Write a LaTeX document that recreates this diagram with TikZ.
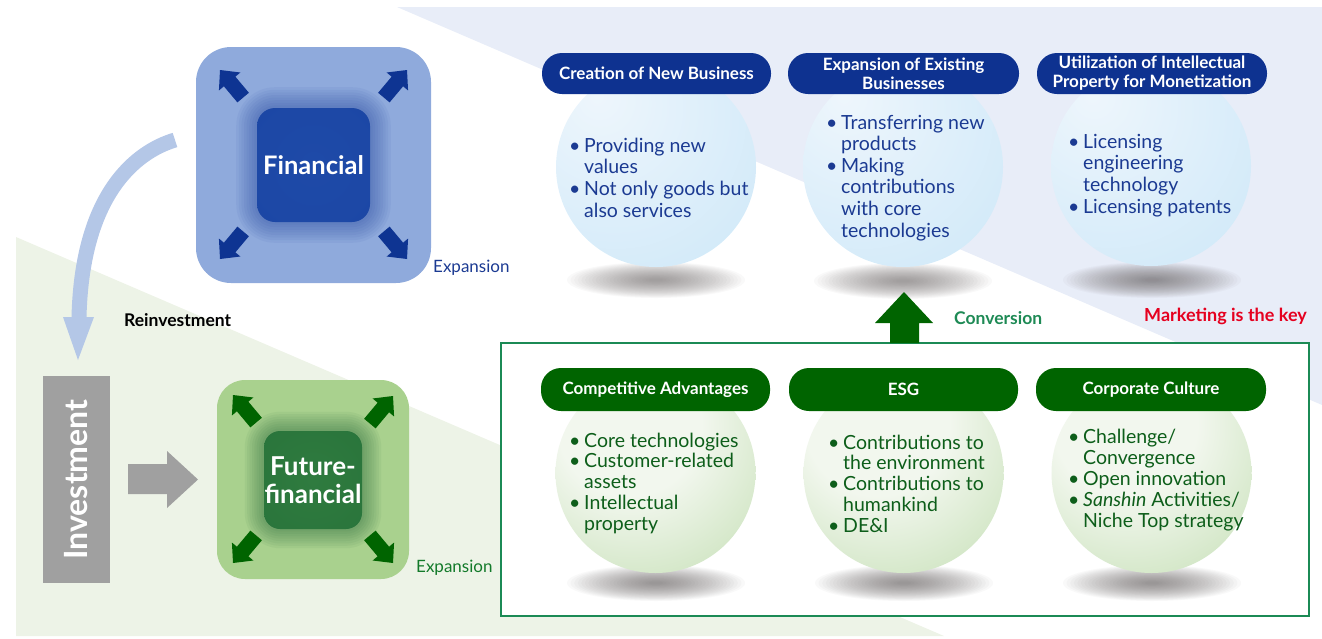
\documentclass[tikz,border=0pt]{standalone}
\usepackage{fontspec}
\setmainfont{Lato}
\definecolor{bgblue}{HTML}{E8EDF8}
\definecolor{bggreen}{HTML}{EDF3E7}
\definecolor{finout}{HTML}{8FAADC}
\definecolor{darkblue}{HTML}{0E3492}
\definecolor{pillblue}{HTML}{0E3290}
\definecolor{txtblue}{HTML}{1B3A92}
\definecolor{curvearrow}{HTML}{B4C7E7}
\definecolor{futout}{HTML}{A9D18E}
\definecolor{dkgreen}{HTML}{006400}
\definecolor{txtgreen}{HTML}{0D5E1A}
\definecolor{boxgreen}{HTML}{1B8A55}
\definecolor{convgreen}{HTML}{1E8A55}
\definecolor{expgreen}{HTML}{137A2A}
\definecolor{mkred}{HTML}{E5001F}
\definecolor{invgray}{HTML}{A0A0A0}
\definecolor{shadowgray}{HTML}{5E5858}
\definecolor{finC}{HTML}{1E4AA8}
\definecolor{finE}{HTML}{0B2B8A}
\definecolor{futC}{HTML}{2F7B3F}
\definecolor{futE}{HTML}{0A5026}
\definecolor{sphBa}{HTML}{EEF6FC}
\definecolor{sphBb}{HTML}{C3E3F7}
\definecolor{sphGa}{HTML}{F2F7EE}
\definecolor{sphGb}{HTML}{AAD193}
\pgfdeclareradialshading{finshade}{\pgfpointorigin}{color(0bp)=(finC); color(36bp)=(finC!90!finE); color(50bp)=(finE); color(75bp)=(finE)}
\pgfdeclareradialshading{futshade}{\pgfpointorigin}{color(0bp)=(futC); color(36bp)=(futC!85!futE); color(50bp)=(futE); color(75bp)=(futE)}
\pgfdeclareradialshading{bsph}{\pgfpoint{-15bp}{18bp}}{color(0bp)=(sphBa); color(65bp)=(sphBb); color(100bp)=(sphBb)}
\pgfdeclareradialshading{gsph}{\pgfpoint{-8bp}{15bp}}{color(0bp)=(sphGa); color(18bp)=(sphGa); color(62bp)=(sphGb); color(100bp)=(sphGb)}
\newcommand\bitem{\makebox[15pt][l]{•}}
\newcommand\bcont{\hspace*{15pt}}
\newcommand\sphlines[6]{%
  \foreach \lntxt [count=\i from 0] in {#6}{%
    \node[#2] (#1-\i) at (#3,{#4+\i*#5}) {\lntxt};}}
\newcommand\diagarrow[4]{%
  \fill[#4, shift={(#1,#2)}, rotate=#3] (0,0) -- (-15,-14) -- (-15,-7.5) -- (-36,-7.5) -- (-36,7.5) -- (-15,7.5) -- (-15,14) -- cycle;}
\newcommand\shadowat[2]{%
  \foreach \k in {0,...,23}{%
    \pgfmathsetmacro\sf{1-\k/25}%
    \fill[shadowgray, opacity=0.036] (#1,#2) ellipse ({89*\sf} and {18*\sf});}}
\begin{document}
\begin{tikzpicture}[x=1pt,y=-1pt,
  pillb/.style={fill=pillblue, rounded corners=20pt, minimum height=41pt, text=white,
    font=\bfseries\fontsize{17}{19}\selectfont, align=center, inner sep=0pt},
  pillg/.style={pillb, fill=dkgreen, minimum height=43pt},
  btext/.style={font=\fontsize{19.5}{22}\selectfont, text=txtblue, inner sep=0pt, anchor=base west},
  gtext/.style={btext, text=txtgreen},
  bsphere/.style={circle, minimum size=200pt, inner sep=0pt, shade, shading=bsph},
  gsphere/.style={circle, minimum size=200pt, inner sep=0pt, shade, shading=gsph},
  lbl/.style={inner sep=0pt, anchor=west}]
\useasboundingbox (0,0) rectangle (1322,638);
% backgrounds
\fill[bgblue] (397,7) -- (1322,7) -- (1322,405) -- cycle;
\fill[bggreen] (16,237) -- (944,636) -- (16,636) -- cycle;
% Financial
\node[fill=finout, rounded corners=35pt, minimum width=235pt, minimum height=236pt, inner sep=0pt] (finbox) at (313.5,165) {};
\foreach \k in {1,...,8}{%
  \pgfmathsetmacro\dd{\k*2.6}\pgfmathsetmacro\rr{18+\k*2.6}%
  \fill[darkblue, opacity=0.05, rounded corners=\rr pt] ({257-\dd},{108-\dd}) rectangle ({370+\dd},{222+\dd});}
\node[shade, shading=finshade, rounded corners=18pt, minimum width=113pt, minimum height=114pt, inner sep=0pt,
  text=white, font=\bfseries\fontsize{25.5}{28}\selectfont] (fin) at (313.5,165) {Financial};
\diagarrow{220}{70}{130}{darkblue}
\diagarrow{407}{70}{50}{darkblue}
\diagarrow{220}{259}{-130}{darkblue}
\diagarrow{407}{259}{-50}{darkblue}
\node[lbl, text=txtblue, font=\fontsize{17}{19}\selectfont] (expb) at (433,268) {Expansion};
% reinvestment arrow
\coordinate (ra) at (175,140);
\coordinate (rb) at (79,317);
\draw[curvearrow, line width=15pt] (ra) .. controls (135,152) and (82,195) .. (rb);
\fill[curvearrow] (63,317) -- (94,317) -- (78,360) -- cycle;
\node[lbl, text=black, font=\bfseries\fontsize{17.5}{20}\selectfont] (reinv) at (124,320) {Reinvestment};
% Investment
\node[fill=invgray, rotate=90, minimum width=207pt, minimum height=67pt, inner sep=0pt,
  text=white, font=\bfseries\fontsize{32}{36}\selectfont] (inv) at (76.5,479.5) {Investment};
\fill[invgray] (128,464) -- (167,464) -- (167,451) -- (198,479.5) -- (167,508) -- (167,494) -- (128,494) -- cycle;
% Future-financial
\node[fill=futout, rounded corners=28pt, minimum width=192pt, minimum height=199pt, inner sep=0pt] (futbox) at (313,479.5) {};
\foreach \k in {1,...,8}{%
  \pgfmathsetmacro\dd{\k*2.4}\pgfmathsetmacro\rr{16+\k*2.4}%
  \fill[futE, opacity=0.05, rounded corners=\rr pt] ({264-\dd},{431-\dd}) rectangle ({362+\dd},{529+\dd});}
\node[shade, shading=futshade, rounded corners=16pt, minimum width=98pt, minimum height=98pt, inner sep=0pt,
  text=white, align=center, font=\bfseries\fontsize{26}{28}\selectfont] (fut) at (313,480) {Future-\\financial};
\diagarrow{233}{395}{130}{dkgreen}
\diagarrow{393}{396}{50}{dkgreen}
\diagarrow{233}{563}{-130}{dkgreen}
\diagarrow{393}{563}{-50}{dkgreen}
\node[lbl, text=expgreen, font=\fontsize{17}{19}\selectfont] (expg) at (416,568) {Expansion};
% green frame
\draw[boxgreen, line width=2pt, fill=white] (501,343) rectangle (1309,616);
% shadows
\shadowat{656}{280}
\shadowat{903}{281}
\shadowat{1152}{280}
\shadowat{656}{583}
\shadowat{904}{583}
\shadowat{1152}{583}
% conversion arrow
\fill[dkgreen] (890,343) -- (890,323) -- (875,323) -- (904,292) -- (933,323) -- (919,323) -- (919,343) -- cycle;
\node[lbl, text=convgreen, font=\bfseries\fontsize{17.5}{20}\selectfont] (conv) at (954,318) {Conversion};
\node[lbl, text=mkred, font=\bfseries\fontsize{18}{20}\selectfont] (mkt) at (1144,316) {Marketing is the key};
% spheres
\node[bsphere] (b1) at (656,167) {};
\node[bsphere] (b2) at (903,167) {};
\node[bsphere] (b3) at (1151,166) {};
\node[gsphere] (g1) at (655.5,473) {};
\node[gsphere] (g2) at (903.5,473) {};
\node[gsphere] (g3) at (1151.5,473) {};
% headers
\node[pillb, minimum width=229pt] (h1) at (656.5,73.5) {Creation of New Business};
\node[pillb, minimum width=231pt] (h2) at (903.5,73.5) {Expansion of Existing\\Businesses};
\node[pillb, minimum width=230pt] (h3) at (1152,73.5) {Utilization of Intellectual\\Property for Monetization};
\node[pillg, minimum width=229pt] (k1) at (655.5,389.5) {Competitive Advantages};
\node[pillg, minimum width=229pt] (k2) at (903.5,389.5) {ESG};
\node[pillg, minimum width=230pt] (k3) at (1151,389.5) {Corporate Culture};
% sphere texts
\sphlines{t1}{btext}{569}{152}{21.7}{\bitem Providing new, \bcont values, \bitem Not only goods but, \bcont also services}
\sphlines{t2}{btext}{826}{129}{21.6}{\bitem Transferring new, \bcont products, \bitem Making, \bcont contributions, \bcont with core, \bcont technologies}
\sphlines{t3}{btext}{1068}{148}{21.7}{\bitem Licensing, \bcont engineering, \bcont technology, \bitem Licensing patents}
\sphlines{u1}{gtext}{569}{447}{20.8}{\bitem Core technologies, \bitem Customer-related, \bcont assets, \bitem Intellectual, \bcont property}
\sphlines{u2}{gtext}{828}{449}{20.8}{\bitem Contributions to, \bcont the environment, \bitem Contributions to, \bcont humankind, \bitem DE\&I}
\sphlines{u3}{gtext}{1068}{443}{21}{\bitem Challenge/, \bcont Convergence, \bitem Open innovation, \bitem \textit{Sanshin} Activities/, \bcont Niche Top strategy}
\end{tikzpicture}
\end{document}
